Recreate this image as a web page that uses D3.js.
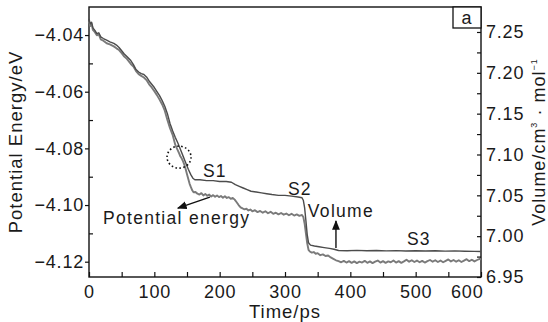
<!DOCTYPE html>
<html>
<head>
<meta charset="utf-8">
<script src="https://cdn.jsdelivr.net/npm/d3@7/dist/d3.min.js"></script>
<style>
  html, body { margin: 0; padding: 0; background: #fff; }
  svg { display: block; font-family: "Liberation Sans", Arial, sans-serif; }
  .axis text { font-size: 18px; fill: #1a1a1a; letter-spacing: 0.8px; }
  .axis line { stroke: #111; stroke-width: 1.2; }
  .axis path { display: none; }
  .label { fill: #1a1a1a; letter-spacing: 1px; }
</style>
</head>
<body>
<svg id="chart" width="548" height="322"></svg>
<script>
// Time axis ticks (ps)
const timeTicks = [0, 100, 200, 300, 400, 500, 600];
const timeMinorTicks = [50, 150, 250, 350, 450, 550];
// Left axis: potential energy (eV)
const energyTicks = [-4.04, -4.06, -4.08, -4.10, -4.12];
const energyMinorTicks = [-4.05, -4.07, -4.09, -4.11];
// Right axis: molar volume (cm3/mol)
const volumeTicks = [6.95, 7.00, 7.05, 7.10, 7.15, 7.20, 7.25];
const volumeMinorTicks = [6.975, 7.025, 7.075, 7.125, 7.175, 7.225];

// Potential energy series
const peTime = [0,2,4,6,9,12,15,18,22,27,32,38,42,46,50,54,58,64,68,72,76,80,84,88,92,96,100,104,108,112,116,120,124,128,132,135,138,140,142,144,146,148,150,152,154,156,158,160,163,166,169,172,175,178,181,184,187,190,193,196,199,202,205,208,211,214,217,220,223,226,229,232,235,238,241,244,247,250,254,258,262,266,270,274,278,282,286,290,294,298,302,306,310,314,318,322,326,328,330,332,334,336,338,341,344,347,350,354,358,362,366,370,374,378,382,386,390,394,398,402,406,410,414,418,422,426,430,434,438,442,446,450,454,458,462,466,470,474,478,482,486,490,494,498,502,506,510,514,518,522,526,530,534,538,542,546,550,554,558,562,566,570,574,578,582,586,590,594,598,600];
const peEnergy = [-4.0352,-4.0368,-4.0361,-4.0382,-4.0390,-4.0401,-4.0398,-4.0415,-4.0420,-4.0429,-4.0433,-4.0440,-4.0447,-4.0453,-4.0464,-4.0476,-4.0484,-4.0502,-4.0511,-4.0527,-4.0538,-4.0544,-4.0550,-4.0559,-4.0574,-4.0585,-4.0598,-4.0612,-4.0628,-4.0645,-4.0667,-4.0700,-4.0729,-4.0752,-4.0787,-4.0803,-4.0818,-4.0829,-4.0836,-4.0846,-4.0858,-4.0874,-4.0891,-4.0908,-4.0925,-4.0937,-4.0948,-4.0955,-4.0954,-4.0960,-4.0963,-4.0958,-4.0966,-4.0961,-4.0967,-4.0963,-4.0970,-4.0965,-4.0971,-4.0966,-4.0972,-4.0968,-4.0974,-4.0969,-4.0975,-4.0972,-4.0978,-4.0975,-4.0981,-4.0990,-4.1000,-4.1008,-4.1012,-4.1015,-4.1013,-4.1019,-4.1016,-4.1022,-4.1018,-4.1025,-4.1021,-4.1027,-4.1022,-4.1029,-4.1024,-4.1031,-4.1027,-4.1033,-4.1028,-4.1034,-4.1030,-4.1036,-4.1031,-4.1037,-4.1033,-4.1038,-4.1035,-4.1042,-4.1065,-4.1100,-4.1135,-4.1158,-4.1164,-4.1168,-4.1166,-4.1172,-4.1170,-4.1177,-4.1174,-4.1180,-4.1178,-4.1185,-4.1190,-4.1195,-4.1198,-4.1202,-4.1197,-4.1203,-4.1198,-4.1204,-4.1199,-4.1205,-4.1200,-4.1203,-4.1197,-4.1204,-4.1199,-4.1205,-4.1200,-4.1196,-4.1203,-4.1198,-4.1204,-4.1199,-4.1202,-4.1196,-4.1203,-4.1198,-4.1204,-4.1199,-4.1193,-4.1200,-4.1195,-4.1201,-4.1196,-4.1202,-4.1197,-4.1203,-4.1198,-4.1194,-4.1200,-4.1195,-4.1201,-4.1196,-4.1202,-4.1197,-4.1192,-4.1199,-4.1194,-4.1200,-4.1195,-4.1201,-4.1196,-4.1191,-4.1198,-4.1193,-4.1199,-4.1194,-4.1190,-4.1193];

// Volume series
const volTime = [0,2,4,6,9,12,15,18,22,27,32,38,42,46,50,54,58,64,68,72,76,80,84,88,92,96,100,104,108,112,116,120,124,128,132,136,140,144,148,152,156,159,162,170,180,190,200,210,218,224,230,236,242,248,256,264,272,280,290,300,310,320,326,328,330,332,334,336,339,345,352,360,368,375,382,395,410,425,440,455,470,485,500,515,530,545,560,575,590,600];
const volValue = [7.266,7.260,7.262,7.255,7.252,7.248,7.249,7.244,7.242,7.240,7.238,7.236,7.234,7.231,7.227,7.223,7.220,7.215,7.210,7.204,7.201,7.199,7.198,7.195,7.190,7.186,7.182,7.177,7.172,7.166,7.159,7.150,7.138,7.129,7.121,7.114,7.106,7.098,7.090,7.082,7.075,7.071,7.069,7.069,7.068,7.068,7.067,7.067,7.066,7.063,7.061,7.059,7.057,7.055,7.054,7.053,7.052,7.051,7.050,7.050,7.049,7.048,7.047,7.044,7.035,7.019,7.002,6.992,6.989,6.988,6.987,6.986,6.985,6.984,6.9825,6.9822,6.9826,6.9821,6.9824,6.9820,6.9823,6.9819,6.9822,6.9818,6.9821,6.9817,6.9820,6.9816,6.9814,6.9813];

const svg = d3.select("#chart");
const plotLeft = 89, plotRight = 481, plotTop = 7, plotBottom = 277;

const x = d3.scaleLinear().domain([0, 600]).range([plotLeft, plotRight]);
const yE = d3.scaleLinear().domain([-4.1254, -4.0301]).range([plotBottom, plotTop]);
const yV = d3.scaleLinear().domain([6.95, 7.2806]).range([plotBottom, plotTop]);

// Bottom axis: inward ticks
const xAxis = svg.append("g").attr("class", "axis").attr("transform", `translate(0,${plotBottom})`)
  .call(d3.axisBottom(x).tickValues(timeTicks).tickFormat(d3.format("d")).tickSize(-5).tickSizeOuter(0).tickPadding(8));
xAxis.selectAll(".tick").filter(d => d === 600).select("text").attr("text-anchor", "end").attr("x", 2);
svg.append("g").attr("class", "axis").attr("transform", `translate(0,${plotBottom})`)
  .call(d3.axisBottom(x).tickValues(timeMinorTicks).tickFormat("").tickSize(-5).tickSizeOuter(0));

// Left axis
const fmtE = v => d3.format(".2f")(v).replace("-", "\u2212");
svg.append("g").attr("class", "axis").attr("transform", `translate(${plotLeft},0)`)
  .call(d3.axisLeft(yE).tickValues(energyTicks).tickFormat(fmtE).tickSize(4).tickSizeOuter(0).tickPadding(1));
svg.append("g").attr("class", "axis").attr("transform", `translate(${plotLeft},0)`)
  .call(d3.axisLeft(yE).tickValues(energyMinorTicks).tickFormat("").tickSize(-4).tickSizeOuter(0));

// Right axis
svg.append("g").attr("class", "axis").attr("transform", `translate(${plotRight},0)`)
  .call(d3.axisRight(yV).tickValues(volumeTicks).tickFormat(d3.format(".2f")).tickSize(-4).tickSizeOuter(0).tickPadding(5));
svg.append("g").attr("class", "axis").attr("transform", `translate(${plotRight},0)`)
  .call(d3.axisRight(yV).tickValues(volumeMinorTicks).tickFormat("").tickSize(-4).tickSizeOuter(0));

// Frame
svg.append("rect").attr("x", plotLeft).attr("y", plotTop).attr("width", plotRight - plotLeft).attr("height", plotBottom - plotTop)
  .attr("fill", "none").attr("stroke", "#111").attr("stroke-width", 1.4);

// Panel label box
svg.append("rect").attr("x", 453).attr("y", plotTop).attr("width", plotRight - 453).attr("height", 21)
  .attr("fill", "#fff").attr("stroke", "#111").attr("stroke-width", 1.3);
svg.append("text").attr("class", "label").attr("x", 467).attr("y", 24).attr("text-anchor", "middle")
  .attr("font-size", 18).text("a");

// Curves
const peData = peTime.map((t, i) => [t, peEnergy[i]]);
const volData = volTime.map((t, i) => [t, volValue[i]]);

svg.append("path").datum(peData)
  .attr("fill", "none").attr("stroke", "#7a7a7a").attr("stroke-width", 1.9).attr("stroke-linejoin", "round")
  .attr("d", d3.line().x(d => x(d[0])).y(d => yE(d[1])));
svg.append("path").datum(volData)
  .attr("fill", "none").attr("stroke", "#4c4c4c").attr("stroke-width", 1.4).attr("stroke-linejoin", "round")
  .attr("d", d3.line().x(d => x(d[0])).y(d => yV(d[1])));

// Dotted circle marking the onset region
svg.append("ellipse").attr("cx", x(137.8)).attr("cy", yE(-4.0831)).attr("rx", 12).attr("ry", 11)
  .attr("fill", "none").attr("stroke", "#111").attr("stroke-width", 1.6).attr("stroke-dasharray", "1.6,2.4");

// Annotations
const ann = svg.append("g").attr("class", "label").attr("font-size", 17.5);
ann.append("text").attr("x", x(174.5)).attr("y", yE(-4.0901)).text("S1");
ann.append("text").attr("x", x(304.6)).attr("y", yE(-4.0965)).text("S2");
ann.append("text").attr("x", x(486.8)).attr("y", yE(-4.1141)).text("S3");
ann.append("text").attr("x", x(21.4)).attr("y", yE(-4.1067)).attr("letter-spacing", "1.3px").text("Potential energy");
ann.append("text").attr("x", x(335)).attr("y", yE(-4.1042)).attr("letter-spacing", "1.3px").text("Volume");

// Arrows
const defs = svg.append("defs");
defs.append("marker").attr("id", "head").attr("viewBox", "0 0 10 10").attr("refX", 9).attr("refY", 5)
  .attr("markerWidth", 7).attr("markerHeight", 7).attr("orient", "auto")
  .append("path").attr("d", "M0,1 L10,5 L0,9 Z").attr("fill", "#111");

svg.append("line").attr("x1", x(185)).attr("y1", yE(-4.0972)).attr("x2", x(136)).attr("y2", yE(-4.1011))
  .attr("stroke", "#111").attr("stroke-width", 1.4).attr("marker-end", "url(#head)");
svg.append("line").attr("x1", x(378)).attr("y1", yV(6.9855)).attr("x2", x(378)).attr("y2", yV(7.0186))
  .attr("stroke", "#111").attr("stroke-width", 1.4).attr("marker-end", "url(#head)");

// Axis titles
svg.append("text").attr("class", "label").attr("transform", `translate(22,142) rotate(-90)`).attr("text-anchor", "middle")
  .attr("font-size", 18.5).text("Potential Energy/eV");
const vt = svg.append("text").attr("class", "label").attr("transform", `translate(545,142) rotate(-90)`).attr("text-anchor", "middle")
  .attr("font-size", 18);
vt.append("tspan").text("Volume/cm");
vt.append("tspan").attr("font-size", 9).attr("dy", -8).text("3");
vt.append("tspan").attr("dy", 8).text(" \u00b7 mol");
vt.append("tspan").attr("font-size", 9).attr("dy", -8).text("\u22121");
svg.append("text").attr("class", "label").attr("x", 285).attr("y", 318).attr("text-anchor", "middle")
  .attr("font-size", 18.5).text("Time/ps");
</script>
</body>
</html>
